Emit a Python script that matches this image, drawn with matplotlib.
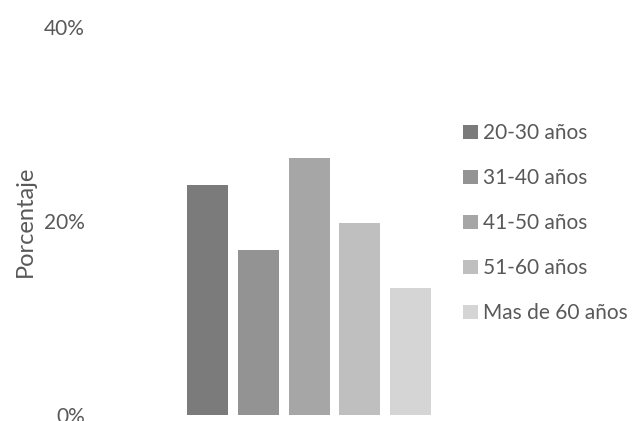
import matplotlib
matplotlib.use("Agg")
import matplotlib.pyplot as plt
from matplotlib.patches import Patch
from matplotlib.ticker import FuncFormatter

plt.rcParams['font.family'] = ['Lato', 'DejaVu Sans']

# Age groups and their share of respondents
groups = ["20-30 años", "31-40 años", "41-50 años", "51-60 años", "Mas de 60 años"]
shares = [0.237, 0.170, 0.265, 0.198, 0.131]
colors = ["#7b7b7b", "#939393", "#a6a6a6", "#bfbfbf", "#d5d5d5"]
yticks = [0.0, 0.2, 0.4]

W, H = 637, 421
fig = plt.figure(figsize=(W / 100, H / 100), dpi=100)
ax = fig.add_axes([100 / W, (H - 415) / H, 340 / W, 388 / H])

x = list(range(len(groups)))
ax.bar(x, shares, width=0.81, color=colors)
ax.set_xlim(-2.12, 4.58)
ax.set_ylim(0, 0.4)
ax.set_yticks(yticks)
ax.yaxis.set_major_formatter(FuncFormatter(lambda v, _: f"{v * 100:.0f}%"))
ax.tick_params(axis='y', length=0, pad=11, labelsize=15, labelcolor="#595959")
ax.set_xticks([])
for s in ax.spines.values():
    s.set_visible(False)
ax.set_ylabel("Porcentaje", fontsize=17, color="#595959", labelpad=6)

handles = [Patch(facecolor=c, edgecolor='none') for c in colors]
fig.legend(handles, groups, loc='upper left', bbox_to_anchor=(455 / W, (H - 115) / H),
           frameon=False, fontsize=15, labelcolor="#595959",
           handlelength=0.7, handleheight=0.7, handletextpad=0.25,
           labelspacing=1.2, borderaxespad=0)

fig.savefig("out.png", dpi=100)
